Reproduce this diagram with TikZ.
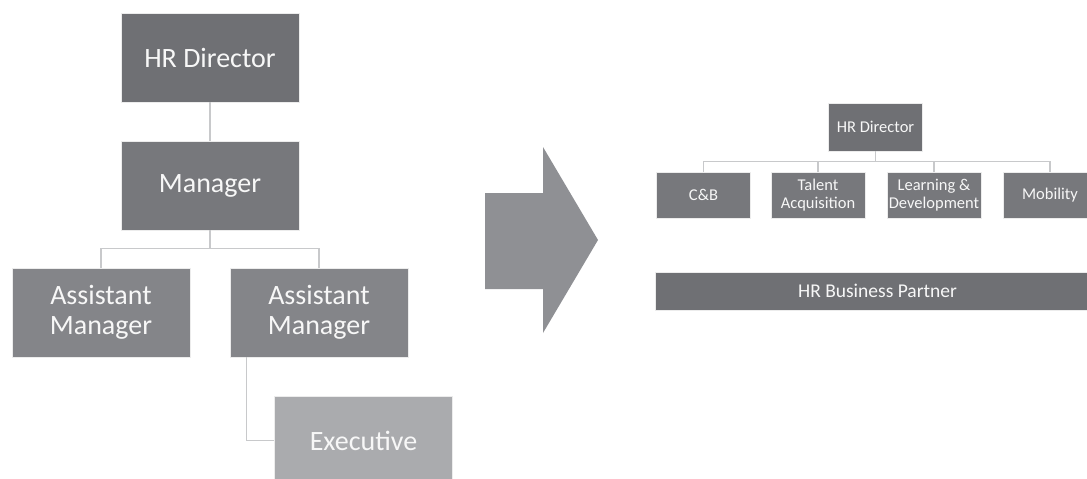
\documentclass[tikz,border=0pt]{standalone}
\usepackage{fontspec}
\setmainfont{Carlito}
\definecolor{boxdark}{HTML}{6F7074}
\definecolor{boxmid}{HTML}{77787C}
\definecolor{boxlight}{HTML}{848589}
\definecolor{boxpale}{HTML}{AAABAE}
\definecolor{arrowgray}{HTML}{8F9094}
\definecolor{linkgray}{HTML}{C8C9CB}
\tikzset{
    unit/.style={draw=white!85!gray, line width=0.5pt, text=white!94!gray, align=center, inner sep=0pt},
    bigunit/.style={unit, minimum width=178pt, minimum height=89pt, font=\fontsize{28}{30}\selectfont},
    smallunit/.style={unit, minimum width=94pt, minimum height=46pt, font=\fontsize{16.5}{18}\selectfont},
    link/.style={draw=linkgray, line width=1.2pt}
}
\begin{document}
\begin{tikzpicture}[x=1pt, y=-1pt]
                \def\w{1087};
                \def\h{479};
                \clip (0,0) rectangle (\w,\h);
                \useasboundingbox (0,0) rectangle (\w,\h);
                % left: old structure
                \node[bigunit, fill=boxdark] (hrdir) at (210,57.5) {HR Director};
                \node[bigunit, fill=boxmid] (mgr) at (210,185.5) {Manager};
                \node[bigunit, fill=boxlight] (asst1) at (101,312.5) {Assistant\\Manager};
                \node[bigunit, fill=boxlight] (asst2) at (319,312.5) {Assistant\\Manager};
                \node[bigunit, fill=boxpale] (exec) at (363.5,440.5) {Executive};
                \draw[link] (hrdir.south) -- (mgr.north);
                \draw[link] (mgr.south) -- ++(0,18) coordinate (lbus);
                \draw[link] (asst1.north) |- (lbus) -| (asst2.north);
                \draw[link] ([xshift=17pt]asst2.south west) |- (exec.west);
                % big arrow
                \fill[arrowgray] (485,193) -- (543,193) -- (543,147) -- (598,240) -- (543,333) -- (543,289) -- (485,289) -- cycle;
                % right: new structure
                \node[smallunit, fill=boxdark, minimum height=48pt] (rdir) at (875.5,127) {HR Director};
                \node[smallunit, fill=boxmid] (cb) at (703.5,195) {C\&B};
                \node[smallunit, fill=boxmid] (talent) at (818,195) {Talent\\Acquisition};
                \node[smallunit, fill=boxmid] (learn) at (934,195) {Learning \&\\Development};
                \node[smallunit, fill=boxmid] (mob) at (1050,195) {Mobility};
                \node[unit, fill=boxdark, minimum width=445pt, minimum height=38pt, font=\fontsize{19.5}{22}\selectfont] (hrbp) at (877.5,291) {HR Business Partner};
                \draw[link] (rdir.south) -- ++(0,10) coordinate (rbus);
                \draw[link] (cb.north) |- (rbus) -| (mob.north);
                \draw[link] (talent.north) -- (talent.north |- rbus);
                \draw[link] (learn.north) -- (learn.north |- rbus);
            \end{tikzpicture}
\end{document}
